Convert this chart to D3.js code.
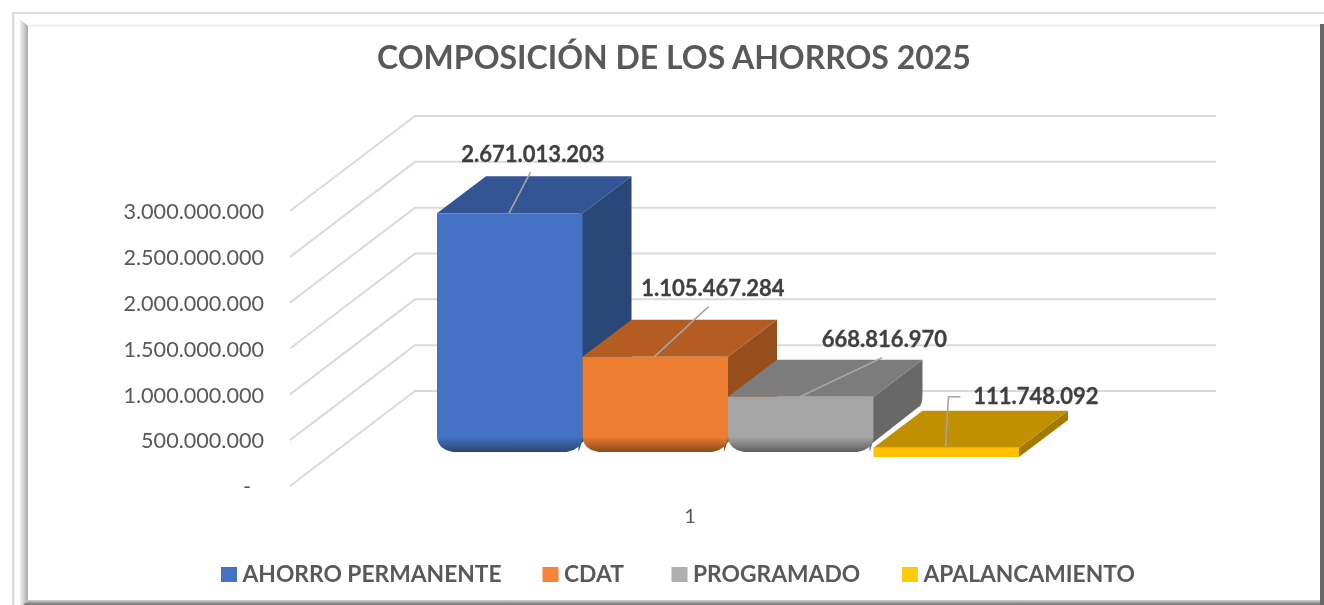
<!DOCTYPE html>
<html><head><meta charset="utf-8">
<script src="https://cdn.jsdelivr.net/npm/d3@7/dist/d3.min.js"></script>
<style>
html,body{margin:0;padding:0;background:#fff;overflow:hidden}
svg{display:block;filter:blur(0.45px)}
text{font-family:Lato,"Open Sans",sans-serif}
</style></head><body><svg id="c" width="1324" height="605"></svg>
<script>
const chartTitle = "COMPOSICIÓN DE LOS AHORROS 2025";
const categories = ["1"];
const seriesNames = ["AHORRO PERMANENTE","CDAT","PROGRAMADO","APALANCAMIENTO"];
const seriesValues = [2671013203,1105467284,668816970,111748092];
const valueLabels = ["2.671.013.203","1.105.467.284","668.816.970","111.748.092"];
const tickValues = [0,500000000,1000000000,1500000000,2000000000,2500000000,3000000000];
const tickLabels = ["-","500.000.000","1.000.000.000","1.500.000.000","2.000.000.000","2.500.000.000","3.000.000.000"];
const frontColors = ["#4472C4","#ED7D31","#A5A5A5","#FFC000"];
const topColors = ["#335593","#B35D22","#7C7C7C","#C09000"];
const sideColors = ["#2A4779","#964F1C","#686868","#A47B00"];
const shadeColors = ["#2A4674","#8A4A1C","#5E5E5E","#FFC000"];
const legendColors = ["#4472C4","#F5843A","#B0B0B0","#FFCA0A"];

const svg = d3.select("#c");
const defs = svg.append("defs");

// Frame
const g1=defs.append("linearGradient").attr("id","fl");
g1.append("stop").attr("offset",0).attr("stop-color","#f2f2f2");
g1.append("stop").attr("offset",1).attr("stop-color","#a8a8a8");
const g2=defs.append("linearGradient").attr("id","fb").attr("x1",0).attr("x2",0).attr("y1",0).attr("y2",1);
g2.append("stop").attr("offset",0).attr("stop-color","#d0d0d0");
g2.append("stop").attr("offset",1).attr("stop-color","#707070");
const frame = svg.append("g");
frame.append("rect").attr("x",12).attr("y",12).attr("width",1312).attr("height",2).attr("fill","#dcdcdc");
frame.append("rect").attr("x",12).attr("y",12).attr("width",2.5).attr("height",593).attr("fill","#dcdcdc");
frame.append("path").attr("d","M20,19 L28,26 L28,600 L23,605 L20,605Z").attr("fill","url(#fl)");
frame.append("rect").attr("x",28).attr("y",24.5).attr("width",1292).attr("height",2).attr("fill","#f0f0f0");
frame.append("path").attr("d","M23,605 L28,600 L1320,600 L1324,605Z").attr("fill","url(#fb)");
frame.append("rect").attr("x",1320).attr("y",24).attr("width",4).attr("height",581).attr("fill","#666");

// Title
svg.append("text").attr("x",674).attr("y",69).attr("text-anchor","middle")
  .attr("font-size",32).attr("font-weight",700).attr("fill","#595959").text(chartTitle);

// Scales
const pxPerAxis = 275;
const axisY = d3.scaleLinear().domain([0,3000000000]).range([486,486-pxPerAxis]);
const wallDx = 125, wallDy = 95, floorRight = 1216, floorLeft = 290;
const grid = svg.append("g").attr("fill","none").attr("stroke","#dadada").attr("stroke-width",2);
tickValues.forEach(v=>{
  const y=axisY(v);
  grid.append("path").attr("d",`M${floorLeft},${y}L${floorLeft+wallDx},${y-wallDy}L${floorRight},${y-wallDy}`);
});

// Axis labels
const axis = d3.axisLeft(axisY).tickValues(tickValues).tickSize(0).tickPadding(0)
  .tickFormat((d,i)=>tickLabels[i]);
const ag = svg.append("g").attr("transform","translate(264,0)").call(axis);
ag.select(".domain").remove();
ag.selectAll("text").attr("font-size",21.6).attr("font-family","Lato").attr("fill","#595959").attr("dy","0.36em");
ag.selectAll("text").filter((d,i)=>i===0).attr("dx",-13);

// Bars
const x = d3.scaleBand().domain(seriesNames).range([437,1019]).padding(0);
const baseY = 458;
const y = d3.scaleLinear().domain([0,3000000000]).range([baseY,baseY-pxPerAxis]);
const depthX = 49, depthY = 37, cut = 6, r = 16;
const bars = svg.append("g");
seriesNames.forEach((name,i)=>{
  const x0=x(name), x1=x0+x.bandwidth(), t=y(seriesValues[i]);
  const g=bars.append("g");
  const beveled = baseY-t > 30;
  const bot = beveled ? baseY-cut : baseY-1;
  if(beveled){
    const id="sh"+i, lg=defs.append("linearGradient").attr("id",id).attr("gradientUnits","userSpaceOnUse")
      .attr("x1",0).attr("x2",0).attr("y1",bot-15).attr("y2",bot);
    lg.append("stop").attr("offset",0).attr("stop-color",frontColors[i]);
    lg.append("stop").attr("offset",1).attr("stop-color",shadeColors[i]);
    g.append("path").attr("fill",sideColors[i]).attr("d",
      `M${x1-4},${t}L${x1},${t}L${x1+depthX},${t-depthY}L${x1+depthX},${bot-depthY-22}`+
      `Q${x1+depthX},${bot-depthY-9} ${x1+depthX-4},${bot-depthY-8}L${x1-1},${bot-9}L${x1-4},${bot}Z`);
    g.append("path").attr("fill",topColors[i]).attr("d",
      `M${x0},${t}L${x0+depthX},${t-depthY}L${x1+depthX},${t-depthY}L${x1},${t}Z`);
    g.append("path").attr("fill",`url(#${id})`).attr("d",
      `M${x0},${t}L${x1},${t}L${x1},${bot-r}Q${x1},${bot-3} ${x1-r},${bot}L${x0+r},${bot}Q${x0},${bot-3} ${x0},${bot-r}Z`);
  } else {
    g.append("path").attr("fill",sideColors[i]).attr("d",
      `M${x1},${t}L${x1+depthX},${t-depthY}L${x1+depthX},${bot-depthY}L${x1},${bot}Z`);
    g.append("path").attr("fill",topColors[i]).attr("d",
      `M${x0},${t}L${x0+depthX},${t-depthY}L${x1+depthX},${t-depthY}L${x1},${t}Z`);
    g.append("rect").attr("x",x0).attr("y",t).attr("width",x.bandwidth()).attr("height",bot-t).attr("fill",frontColors[i]);
  }
});

// Leader lines and value labels, placed relative to each bar
const leaders = [
  [[72,0],[93.5,-41]],
  [[72,0],[126,-50]],
  [[72,0],[154,-39]],
  [[72,0],[75,-51],[87,-51]]
];
const labelOffsets = [[96,-59],[130.5,-68],[156.5,-57],[162.5,-51]];
const lead = svg.append("g").attr("fill","none").attr("stroke","#a6a6a6").attr("stroke-width",1.6);
const labs = svg.append("g");
seriesNames.forEach((name,i)=>{
  const x0=x(name), t=y(seriesValues[i]);
  lead.append("path").attr("d",d3.line()(leaders[i].map(p=>[x0+p[0],t+p[1]])));
  labs.append("text").attr("x",x0+labelOffsets[i][0]).attr("y",t+labelOffsets[i][1]).attr("dy","0.35em")
    .attr("text-anchor","middle").attr("font-size",22).attr("font-weight",700)
    .attr("fill","#404040").attr("stroke","#404040").attr("stroke-width",0.3).text(valueLabels[i]);
});

// Category label
svg.append("text").attr("x",690).attr("y",516).attr("dy","0.35em").attr("text-anchor","middle")
  .attr("font-size",20).attr("fill","#595959").text(categories[0]);

// Legend
const legendX = [221,542.5,671.5,902];
const leg = svg.append("g");
seriesNames.forEach((name,i)=>{
  leg.append("rect").attr("x",legendX[i]).attr("y",567).attr("width",16).attr("height",15).attr("fill",legendColors[i]);
  leg.append("text").attr("x",legendX[i]+21.5).attr("y",574.5).attr("dy","0.35em")
    .attr("font-size",22.8).attr("font-weight",700).attr("fill","#595959").text(name);
});
</script></body></html>
